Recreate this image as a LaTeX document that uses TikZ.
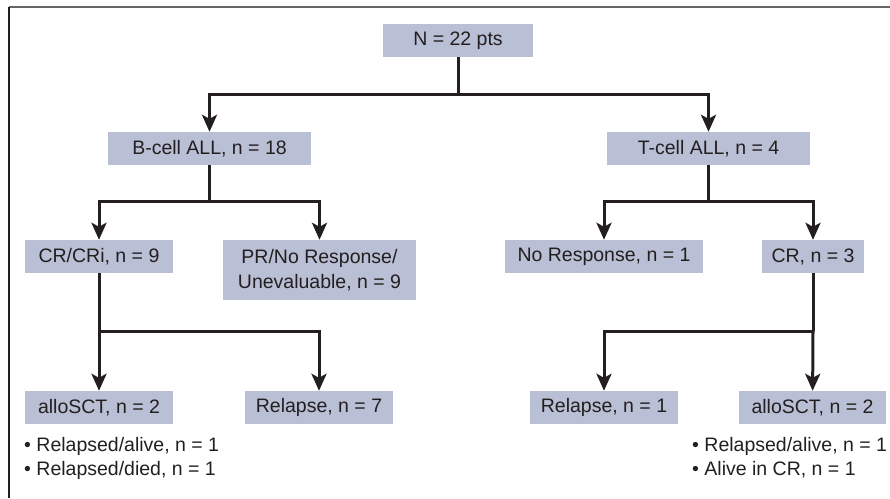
\documentclass[tikz,border=0pt]{standalone}
\usepackage{fontspec}
\setmainfont{Liberation Sans}
\usetikzlibrary{arrows.meta}
\definecolor{boxfill}{RGB}{185,191,212}
\definecolor{ink}{RGB}{35,31,32}
\tikzset{%
    box/.style={fill=boxfill,text=ink,minimum height=33pt,inner sep=0pt,align=center,
        font=\fontsize{19.5}{24.5}\selectfont},
    arr/.style={draw=ink,line width=3pt,-{Stealth[length=17pt,width=15pt,inset=4pt]}},
    ln/.style={draw=ink,line width=3pt},
    note/.style={text=ink,anchor=north west,align=left,inner sep=0pt,
        font=\fontsize{19.5}{24}\selectfont}
}
\begin{document}
\begin{tikzpicture}[x=1pt,y=-1pt]
        \useasboundingbox (0,0) rectangle (890,498);
        % frame
        \draw[line width=2pt,color=black!60] (9,7) -- (890,7);
        \draw[line width=1.5pt,color=ink] (9,7) -- (9,498);

        \node[box,minimum width=150pt] (root) at (458,40.5){N = 22 pts};

        \node[box,minimum width=203pt] (bcell) at (209.5,148.5){B-cell ALL, n = 18};
        \node[box,minimum width=203pt] (tcell) at (708.5,148.5){T-cell ALL, n = 4};

        \node[box,minimum width=148pt] (crcri) at (99,256.5){CR/CRi, n = 9};
        \node[box,minimum width=193pt,minimum height=60pt] (prnr) at (319.5,270){PR/No Response/\\Unevaluable, n = 9};
        \node[box,minimum width=198pt] (noresp) at (604,256.5){No Response, n = 1};
        \node[box,minimum width=102pt] (cr) at (813,256.5){CR, n = 3};

        \node[box,minimum width=148pt] (alloL) at (99,407.5){alloSCT, n = 2};
        \node[box,minimum width=148pt] (relL) at (319,407.5){Relapse, n = 7};
        \node[box,minimum width=148pt] (relR) at (604,407.5){Relapse, n = 1};
        \node[box,minimum width=147pt] (alloR) at (812.5,407.5){alloSCT, n = 2};

        \node[note] (notesL) at (24,437){• Relapsed/alive, n = 1\\• Relapsed/died, n = 1};
        \node[note] (notesR) at (692,437){• Relapsed/alive, n = 1\\• Alive in CR, n = 1};

        \coordinate (j1) at (458,94);
        \coordinate (j2) at (209.5,201);
        \coordinate (j3) at (708.5,201);
        \coordinate (j4) at (99,331);
        \coordinate (j5) at (813,331);

        \draw[ln] (root) -- (j1);
        \draw[arr] (j1) -| (bcell);
        \draw[arr] (j1) -| (tcell);
        \draw[ln] (bcell) -- (j2);
        \draw[arr] (j2) -| (crcri);
        \draw[arr] (j2) -| (prnr);
        \draw[ln] (tcell) -- (j3);
        \draw[arr] (j3) -| (noresp);
        \draw[arr] (j3) -| (cr);
        \draw[ln] (crcri) -- (j4);
        \draw[arr] (j4) -- (alloL);
        \draw[arr] (j4) -| (relL);
        \draw[ln] (cr) -- (j5);
        \draw[arr] (j5) -- (alloR);
        \draw[arr] (j5) -| (relR);
    \end{tikzpicture}
\end{document}
